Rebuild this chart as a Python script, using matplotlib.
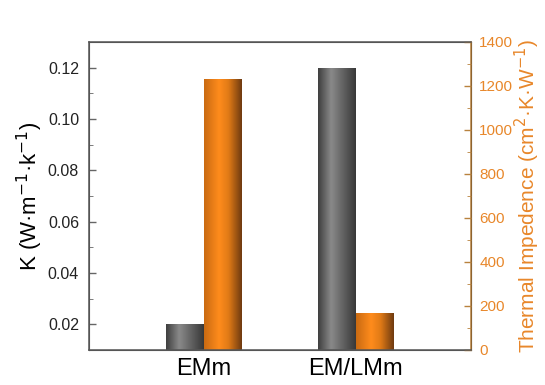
import matplotlib.pyplot as plt
import numpy as np
from matplotlib.colors import LinearSegmentedColormap
from matplotlib.ticker import MultipleLocator

plt.rcParams['font.family'] = ['Liberation Sans', 'DejaVu Sans']

# data
samples = ['EMm', 'EM/LMm']
k_values = [0.02, 0.12]            # W m-1 k-1
impedance = [1230, 170]            # cm2 K W-1

orange = '#e8872a'
grey_cmap = LinearSegmentedColormap.from_list(
    'g', [(0, '#3e3e3e'), (0.35, '#8a8a8a'), (0.6, '#6a6a6a'), (1, '#383838')])
orange_cmap = LinearSegmentedColormap.from_list(
    'o', [(0, '#c96a12'), (0.4, '#ff8c1c'), (0.65, '#e07a16'), (1, '#6e3a10')])


def shade(ax, bars, cmap):
    grad = np.linspace(0, 1, 256).reshape(1, -1)
    for b in bars:
        x, y = b.get_x(), b.get_y()
        w, h = b.get_width(), b.get_height()
        im = ax.imshow(grad, cmap=cmap, aspect='auto', extent=[x, x + w, y, y + h],
                       zorder=2, interpolation='bicubic')
        im.set_clip_path(b)
        b.set_facecolor('none')


fig = plt.figure(figsize=(5.45, 3.85), dpi=100)
ax = fig.add_axes([0.163, 0.091, 0.701, 0.80])
ax2 = ax.twinx()

x = np.arange(len(samples))
w = 0.25
b1 = ax.bar(x - w / 2, [v - 0.01 for v in k_values], w, bottom=0.01, linewidth=0)
b2 = ax2.bar(x + w / 2, impedance, w, linewidth=0)
shade(ax, b1, grey_cmap)
shade(ax2, b2, orange_cmap)

ax.set_xlim(-0.76, 1.76)
ax.set_ylim(0.01, 0.13)
ax2.set_ylim(0, 1400)

ax.yaxis.set_major_locator(MultipleLocator(0.02))
ax.yaxis.set_minor_locator(MultipleLocator(0.01))
ax2.yaxis.set_major_locator(MultipleLocator(200))
ax2.yaxis.set_minor_locator(MultipleLocator(100))
ax.yaxis.set_major_formatter(plt.FormatStrFormatter('%.2f'))

ax.set_xticks(x)
ax.set_xticklabels(samples, fontsize=17)
ax.tick_params(axis='x', length=0, pad=6)
ax.tick_params(axis='y', direction='in', length=5, width=1, color='#666666',
               labelsize=11.5, labelcolor='#222222', pad=7)
ax.tick_params(axis='y', which='minor', direction='in', length=3, color='#666666')
ax2.tick_params(axis='y', direction='in', length=5, width=1, color='#b8823e',
                labelsize=11, labelcolor=orange, pad=6)
ax2.tick_params(axis='y', which='minor', direction='in', length=3, color='#b8823e')

for s in ['left', 'top', 'bottom']:
    ax.spines[s].set_color('#555555')
    ax2.spines[s].set_color('#555555')
ax2.spines['right'].set_color('#b8823e')
for s in ax2.spines.values():
    s.set_linewidth(1.1)

ax.set_ylabel('K (W·m$^{-1}$·k$^{-1}$)', fontsize=16, labelpad=2)
ax2.set_ylabel('Thermal Impedence (cm$^{2}$·K·W$^{-1}$)', fontsize=15,
               color=orange, labelpad=0)

fig.savefig('out.png', dpi=100)
